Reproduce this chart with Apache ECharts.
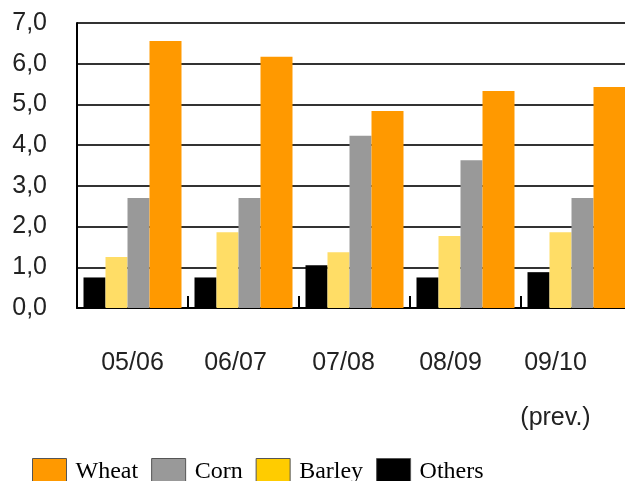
<!DOCTYPE html>
<html>
<head>
<meta charset="utf-8">
<script src="https://cdn.jsdelivr.net/npm/echarts@6/dist/echarts.min.js"></script>
<style>
  html, body { margin: 0; padding: 0; background: #fff; }
  #main { width: 625px; height: 481px; }
</style>
</head>
<body>
<div id="main"></div>
<script>
var categories = ['05/06', '06/07', '07/08', '08/09', '09/10\n(prev.)'];
var others = [0.75, 0.75, 1.05, 0.75, 0.88];
var barley = [1.25, 1.86, 1.37, 1.77, 1.86];
var corn = [2.70, 2.70, 4.23, 3.63, 2.70];
var wheat = [6.56, 6.17, 4.84, 5.33, 5.43];
var yTicks = [0, 1, 2, 3, 4, 5, 6, 7];

// the labels in the picture drift left of the group centres
var labelShift = [0, 8, 11, 15, 21];

var myChart = echarts.init(document.getElementById('main'));
var option = {
    animation: false,
    backgroundColor: '#fff',
    grid: {
        left: 77,
        top: 23,
        width: 555,
        bottom: 173,
        containLabel: false,
        outerBoundsMode: 'none'
    },
    legend: {
        top: 458,
        left: 32,
        padding: 0,
        itemWidth: 34,
        itemHeight: 26,
        itemGap: 13,
        icon: 'rect',
        textStyle: {
            fontFamily: 'Liberation Serif',
            fontSize: 24,
            color: '#000',
            padding: [0, 0, 0, 4]
        },
        data: [
            { name: 'Wheat', itemStyle: { color: '#FF9900', borderColor: '#555', borderWidth: 1 } },
            { name: 'Corn', itemStyle: { color: '#999999', borderColor: '#555', borderWidth: 1 } },
            { name: 'Barley', itemStyle: { color: '#FFCC00', borderColor: '#555', borderWidth: 1 } },
            { name: 'Others', itemStyle: { color: '#000000', borderColor: '#555', borderWidth: 1 } }
        ]
    },
    xAxis: {
        type: 'category',
        data: categories.map(function (c, i) {
            return { value: c, textStyle: { padding: [0, labelShift[i] * 2, 0, 0] } };
        }),
        axisLine: { show: true, lineStyle: { color: '#000', width: 2 } },
        axisTick: { show: true, inside: true, length: 12, lineStyle: { color: '#000', width: 2 } },
        axisLabel: {
            margin: 28,
            fontFamily: 'Liberation Sans',
            fontSize: 25,
            color: '#222',
            lineHeight: 55
        }
    },
    yAxis: {
        type: 'value',
        min: yTicks[0],
        max: yTicks[yTicks.length - 1],
        interval: 1,
        axisLine: { show: true, lineStyle: { color: '#000', width: 2 } },
        axisTick: { show: false },
        splitLine: { lineStyle: { color: '#333', width: 2 } },
        axisLabel: {
            margin: 30,
            fontFamily: 'Liberation Sans',
            fontSize: 25,
            color: '#222',
            formatter: function (v) { return v.toFixed(1).replace('.', ','); }
        }
    },
    series: [
        { name: 'Others', type: 'bar', data: others, barWidth: 22, barGap: '0%', itemStyle: { color: '#000000' } },
        { name: 'Barley', type: 'bar', data: barley, barWidth: 22, barGap: '0%', itemStyle: { color: '#FFDD66' } },
        { name: 'Corn', type: 'bar', data: corn, barWidth: 22, barGap: '0%', itemStyle: { color: '#999999' } },
        { name: 'Wheat', type: 'bar', data: wheat, barWidth: 32, barGap: '0%', itemStyle: { color: '#FF9900' } }
    ]
};
myChart.setOption(option);
</script>
</body>
</html>
